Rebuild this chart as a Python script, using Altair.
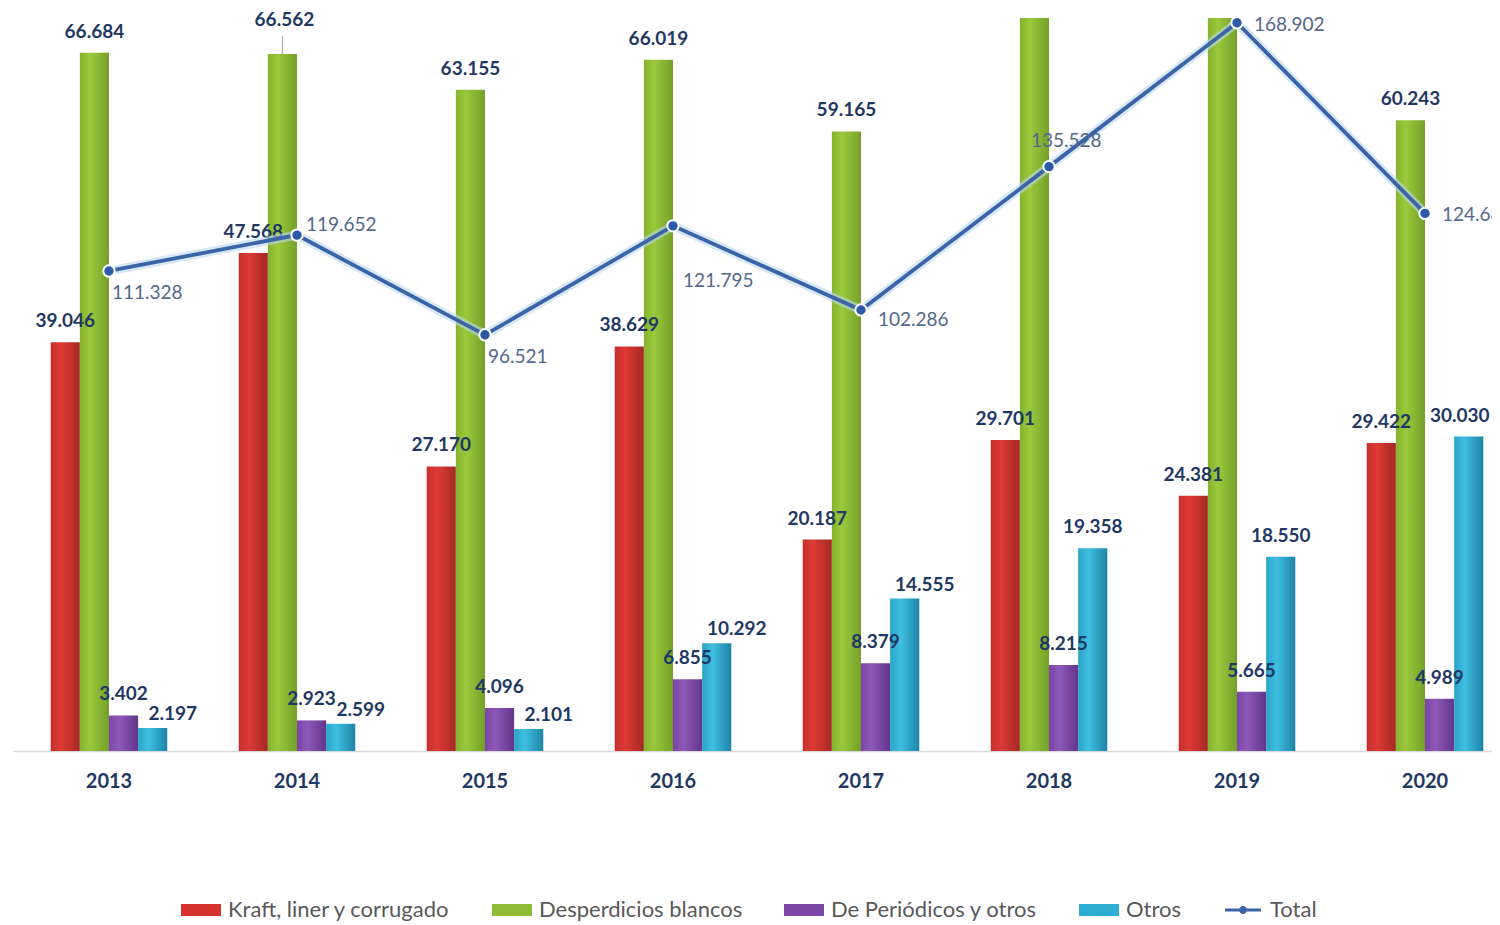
import altair as alt
import pandas as pd

years = ["2013", "2014", "2015", "2016", "2017", "2018", "2019", "2020"]
series = ["Kraft, liner y corrugado", "Desperdicios blancos", "De Periódicos y otros", "Otros"]
kraft = [39.046, 47.568, 27.170, 38.629, 20.187, 29.701, 24.381, 29.422]
blancos = [66.684, 66.562, 63.155, 66.019, 59.165, 78.254, 120.306, 60.243]
periodicos = [3.402, 2.923, 4.096, 6.855, 8.379, 8.215, 5.665, 4.989]
otros = [2.197, 2.599, 2.101, 10.292, 14.555, 19.358, 18.550, 30.030]
total = [111.328, 119.652, 96.521, 121.795, 102.286, 135.528, 168.902, 124.684]

rows = []
for s, vals in zip(series, [kraft, blancos, periodicos, otros]):
    for y, v in zip(years, vals):
        rows.append({"anio": y, "serie": s, "valor": v})
bars_df = pd.DataFrame(rows)
total_df = pd.DataFrame({"anio": years, "total": total, "serie": "Total"})

FONT = "Lato"
solid = ["#d5322e", "#8fbc34", "#7b46a6", "#2eadd3", "#3b64a8"]
gradients = {
    series[0]: ["#c4302c", "#de3a35", "#a52824"],
    series[1]: ["#86b330", "#9cc83c", "#74a02a"],
    series[2]: ["#7a45a6", "#8e58ba", "#62368a"],
    series[3]: ["#2aa3c8", "#3fbfe2", "#1d84a6"],
}
legend_shapes = [
    "M-1,-0.3H1V0.3H-1Z",
    "M-1,-0.3H1V0.3H-1Z",
    "M-1,-0.3H1V0.3H-1Z",
    "M-1,-0.3H1V0.3H-1Z",
    "M-0.9,-0.07H0.9V0.07H-0.9Z M-0.2,0A0.2,0.2,0,1,1,0.2,0A0.2,0.2,0,1,1,-0.2,0Z",
]

x_enc = alt.X(
    "anio:N",
    scale=alt.Scale(domain=years, paddingInner=0.38, paddingOuter=0.1234, align=0.8125),
    axis=alt.Axis(
        title=None, labelAngle=0, ticks=False, grid=False, domainColor="#d9d9d9", domainWidth=1.5,
        labelFont=FONT, labelFontSize=20, labelFontWeight="bold", labelColor="#1f3864",
        labelPadding=20,
    ),
)
xoff = alt.XOffset("serie:N", scale=alt.Scale(domain=series, paddingInner=0, paddingOuter=0))
y_bar = alt.Y("valor:Q", scale=alt.Scale(domain=[0, 70]), axis=None)
y_line = alt.Y("total:Q", scale=alt.Scale(domain=[0, 170]), axis=None)

bar_layers = []
for s in series:
    g = gradients[s]
    fill = {
        "gradient": "linear", "x1": 0, "x2": 1, "y1": 0, "y2": 0,
        "stops": [
            {"offset": 0, "color": g[0]},
            {"offset": 0.35, "color": g[1]},
            {"offset": 1, "color": g[2]},
        ],
    }
    bar_layers.append(
        alt.Chart(bars_df)
        .transform_filter(alt.datum.serie == s)
        .mark_bar(clip=True, color=fill)
        .encode(x=x_enc, xOffset=xoff, y=y_bar)
    )

label_style = dict(baseline="bottom", font=FONT, fontSize=19, fontWeight="bold", color="#1f3864")
raised = "(datum.anio == '2014' && datum.serie == 'Desperdicios blancos')"
bar_labels = (
    alt.Chart(bars_df)
    .transform_filter(f"datum.valor <= 70 && datum.serie != 'Otros' && !{raised}")
    .mark_text(dy=-11, **label_style)
    .encode(x=x_enc, xOffset=xoff, y=y_bar, text=alt.Text("valor:Q", format=".3f"))
)
raised_label = (
    alt.Chart(bars_df)
    .transform_filter(raised)
    .mark_text(dy=-24, dx=2, **label_style)
    .encode(x=x_enc, xOffset=xoff, y=y_bar, text=alt.Text("valor:Q", format=".3f"))
)
leader = (
    alt.Chart(bars_df)
    .transform_filter(raised)
    .transform_calculate(tope="datum.valor + 1.7")
    .mark_rule(color="#a6a6a6", strokeWidth=1)
    .encode(x=x_enc, xOffset=xoff, y=y_bar, y2="tope:Q")
)
otros_shifted = (
    alt.Chart(bars_df)
    .transform_filter("datum.serie == 'Otros' && indexof(['2013','2014','2015','2016','2017'], datum.anio) >= 0")
    .mark_text(dx=20, dy=-4, **label_style)
    .encode(x=x_enc, xOffset=xoff, y=y_bar, text=alt.Text("valor:Q", format=".3f"))
)
otros_plain = (
    alt.Chart(bars_df)
    .transform_filter("datum.serie == 'Otros' && (datum.anio == '2018' || datum.anio == '2019')")
    .mark_text(dy=-11, **label_style)
    .encode(x=x_enc, xOffset=xoff, y=y_bar, text=alt.Text("valor:Q", format=".3f"))
)
otros_edge = (
    alt.Chart(bars_df)
    .transform_filter("datum.serie == 'Otros' && datum.anio == '2020'")
    .mark_text(dy=-11, dx=-9, **label_style)
    .encode(x=x_enc, xOffset=xoff, y=y_bar, text=alt.Text("valor:Q", format=".3f"))
)

bars = alt.layer(*bar_layers, leader, bar_labels, raised_label, otros_shifted, otros_plain, otros_edge)

glow = alt.Chart(total_df).mark_line(color="#bdd7ee", strokeWidth=9, opacity=0.6).encode(x=x_enc, y=y_line)
line = alt.Chart(total_df).mark_line(color="#3b64a8", strokeWidth=3.8).encode(x=x_enc, y=y_line)
pts = alt.Chart(total_df).mark_point(
    shape="circle", filled=True, fill="#2d5aa8", stroke="white", strokeWidth=2, size=130, opacity=1
).encode(x=x_enc, y=y_line)

placements = [
    (["2013", "2015"], 3, 22),
    (["2016"], 10, 55),
    (["2014"], 9, -10),
    (["2017"], 17, 10),
    (["2019", "2020"], 17, 2),
    (["2018"], -18, -26),
]
line_labels = []
for yrs, dx, dy in placements:
    line_labels.append(
        alt.Chart(total_df)
        .transform_filter(alt.FieldOneOfPredicate(field="anio", oneOf=yrs))
        .mark_text(align="left", baseline="middle", dx=dx, dy=dy, font=FONT, fontSize=19, color="#52678a")
        .encode(x=x_enc, y=y_line, text=alt.Text("total:Q", format=".3f"))
    )

legend_props = dict(
    title=None, orient="none", direction="horizontal", legendX=168, legendY=872,
    symbolSize=1600, symbolStrokeWidth=0, symbolOpacity=1, labelFont=FONT, labelFontSize=22,
    labelColor="#595959", columnPadding=41, labelOffset=7, labelLimit=400,
)
legend_layer = (
    alt.Chart(total_df)
    .transform_filter("false")
    .mark_point(filled=True, opacity=1)
    .encode(
        x=x_enc,
        y=y_line,
        color=alt.Color("serie:N", scale=alt.Scale(domain=series + ["Total"], range=solid),
                        legend=alt.Legend(**legend_props)),
        shape=alt.Shape("serie:N", scale=alt.Scale(domain=series + ["Total"], range=legend_shapes),
                        legend=alt.Legend(**legend_props)),
    )
)

lines = alt.layer(glow, line, pts, *line_labels, legend_layer)

chart = (
    alt.layer(bars, lines)
    .resolve_scale(y="independent")
    .properties(
        width=1479, height=733,
        background="white",
        autosize=alt.AutoSizeParams(type="none"),
        padding={"left": 5, "right": 0, "top": 10, "bottom": 174},
    )
    .configure_view(strokeWidth=0, stroke="transparent")
)

chart.save("out.html", embed_options={"renderer": "svg", "actions": False})
